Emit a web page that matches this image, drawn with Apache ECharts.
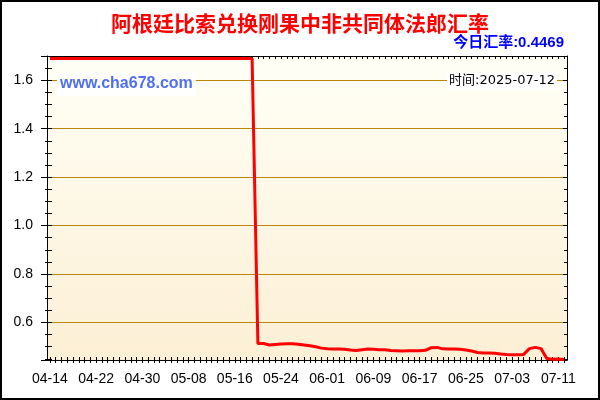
<!DOCTYPE html>
<html>
<head>
<meta charset="utf-8">
<title>阿根廷比索兑换刚果中非共同体法郎汇率</title>
<script src="https://cdn.jsdelivr.net/npm/echarts@6/dist/echarts.min.js"></script>
<style>
    html, body { margin: 0; padding: 0; background: #fff; }
    #main { width: 600px; height: 400px; }
</style>
</head>
<body>
<div id="main"></div>
<script>
    var chartTitle = '阿根廷比索兑换刚果中非共同体法郎汇率';
    var todayRate = '0.4469';
    var updateDate = '2025-07-12';
    var siteName = 'www.cha678.com';

    // 90 days, 04-14 .. 07-12
    var startDay = [2025, 3, 14];
    var dayCount = 90;
    var dates = [];
    for (var i = 0; i < dayCount; i++) {
        var d = new Date(Date.UTC(startDay[0], startDay[1], startDay[2] + i));
        dates.push(('0' + (d.getUTCMonth() + 1)).slice(-2) + '-' + ('0' + d.getUTCDate()).slice(-2));
    }

    var rates = [
        1.69, 1.69, 1.69, 1.69, 1.69, 1.69, 1.69, 1.69, 1.69, 1.69,
        1.69, 1.69, 1.69, 1.69, 1.69, 1.69, 1.69, 1.69, 1.69, 1.69,
        1.69, 1.69, 1.69, 1.69, 1.69, 1.69, 1.69, 1.69, 1.69, 1.69,
        1.69, 1.69, 1.69, 1.69, 1.69, 1.69,
        0.513, 0.513, 0.507, 0.509, 0.511, 0.512, 0.512, 0.510, 0.507, 0.504,
        0.500, 0.494, 0.491, 0.490, 0.490, 0.489, 0.486, 0.484, 0.487, 0.490,
        0.489, 0.487, 0.487, 0.484, 0.483, 0.482, 0.483, 0.483, 0.483, 0.485,
        0.496, 0.497, 0.491, 0.490, 0.490, 0.489, 0.486, 0.482, 0.476, 0.474,
        0.474, 0.473, 0.470, 0.468, 0.467, 0.467, 0.468, 0.492, 0.497, 0.492,
        0.451, 0.448, 0.449, 0.4469
    ];

    var yTicks = [0.6, 0.8, 1.0, 1.2, 1.4, 1.6];
    var yMin = 0.445;
    var yMax = 1.7;

    var chart = echarts.init(document.getElementById('main'));

    var labelFont = 'Liberation Sans';
    var black = '#000';

    // extra y axes only carry tick marks
    function tickAxis(position, inside, len, minorLen) {
        return {
            type: 'value',
            position: position,
            min: yMin,
            max: yMax,
            splitNumber: 6,
            axisLine: { show: position === 'right', lineStyle: { color: black } },
            axisTick: { show: true, inside: inside, length: len, lineStyle: { color: black } },
            minorTick: { show: true, splitNumber: 4, length: minorLen, lineStyle: { color: black } },
            axisLabel: { show: false },
            splitLine: { show: false }
        };
    }

    function dayTickAxis(position, inside, len) {
        return {
            type: 'category',
            position: position,
            data: dates,
            axisLine: { show: position === 'top', lineStyle: { color: black } },
            axisTick: { show: true, alignWithLabel: true, interval: 0, inside: inside, length: len, lineStyle: { color: black } },
            axisLabel: { show: false },
            splitLine: { show: false }
        };
    }

    option = {
        backgroundColor: '#fff',
        animation: false,
        title: {
            text: chartTitle,
            left: 'center',
            top: 8,
            textStyle: {
                color: '#FF0000',
                fontSize: 21,
                fontWeight: 'bold',
                fontFamily: 'Noto Sans CJK SC'
            }
        },
        grid: {
            left: 47,
            right: 33,
            top: 56,
            bottom: 40,
            show: true,
            borderWidth: 0,
            backgroundColor: new echarts.graphic.LinearGradient(0, 0, 0, 1, [
                { offset: 0, color: '#FFFFF6' },
                { offset: 1, color: '#FCEFD5' }
            ])
        },
        xAxis: [
            {
                type: 'category',
                position: 'bottom',
                data: dates,
                boundaryGap: true,
                axisLine: { lineStyle: { color: black, width: 1 } },
                axisTick: { alignWithLabel: true, interval: 7, length: 5, lineStyle: { color: black } },
                axisLabel: { interval: 7, color: black, fontSize: 14, margin: 12, fontFamily: labelFont },
                splitLine: { show: false }
            },
            dayTickAxis('bottom', true, 3),
            dayTickAxis('bottom', false, 3),
            dayTickAxis('top', true, 3)
        ],
        yAxis: [
            {
                type: 'value',
                position: 'left',
                min: yMin,
                max: yMax,
                splitNumber: 6,
                axisLine: { show: true, lineStyle: { color: black } },
                axisTick: { show: true, length: 6, lineStyle: { color: black } },
                minorTick: { show: true, splitNumber: 4, length: 2, lineStyle: { color: black } },
                axisLabel: {
                    customValues: yTicks,
                    formatter: function (v) { return v.toFixed(1); },
                    color: black,
                    fontSize: 14,
                    margin: 14,
                    fontFamily: labelFont
                },
                splitLine: { show: true, lineStyle: { color: '#B8860B', width: 1 } }
            },
            tickAxis('left', true, 5, 5),
            tickAxis('right', true, 4, 3)
        ],
        series: [{
            name: '汇率',
            type: 'line',
            xAxisIndex: 0,
            yAxisIndex: 0,
            data: rates,
            symbol: 'none',
            smooth: false,
            lineStyle: { color: '#FF0000', width: 3 },
            itemStyle: { color: '#FF0000' },
            z: 5
        }],
        graphic: [
            {
                type: 'rect',
                silent: true,
                z: 100,
                shape: { x: 1, y: 1, width: 598, height: 398 },
                style: { fill: 'none', stroke: black, lineWidth: 2 }
            },
            {
                type: 'text',
                z: 100,
                x: 564,
                y: 43,
                style: {
                    text: '今日汇率:' + todayRate,
                    align: 'right',
                    verticalAlign: 'middle',
                    font: 'bold 15px "Liberation Sans", "Noto Sans CJK SC"',
                    fill: '#0000FF'
                }
            },
            {
                type: 'text',
                z: 100,
                x: 57,
                y: 84,
                style: {
                    text: siteName,
                    align: 'left',
                    verticalAlign: 'middle',
                    font: 'bold 16px "Liberation Sans"',
                    fill: '#4F6FF0',
                    backgroundColor: '#fff',
                    padding: [4, 3, 3, 3]
                }
            },
            {
                type: 'text',
                z: 100,
                x: 557,
                y: 81,
                style: {
                    text: '时间:' + updateDate,
                    align: 'right',
                    verticalAlign: 'middle',
                    font: '13px "DejaVu Sans", "Noto Sans CJK SC"',
                    fill: black,
                    backgroundColor: '#fff',
                    padding: [2, 2, 2, 2]
                }
            }
        ]
    };

    chart.setOption(option);

    window.onresize = function () {
        chart.resize();
    };
</script>
</body>
</html>
